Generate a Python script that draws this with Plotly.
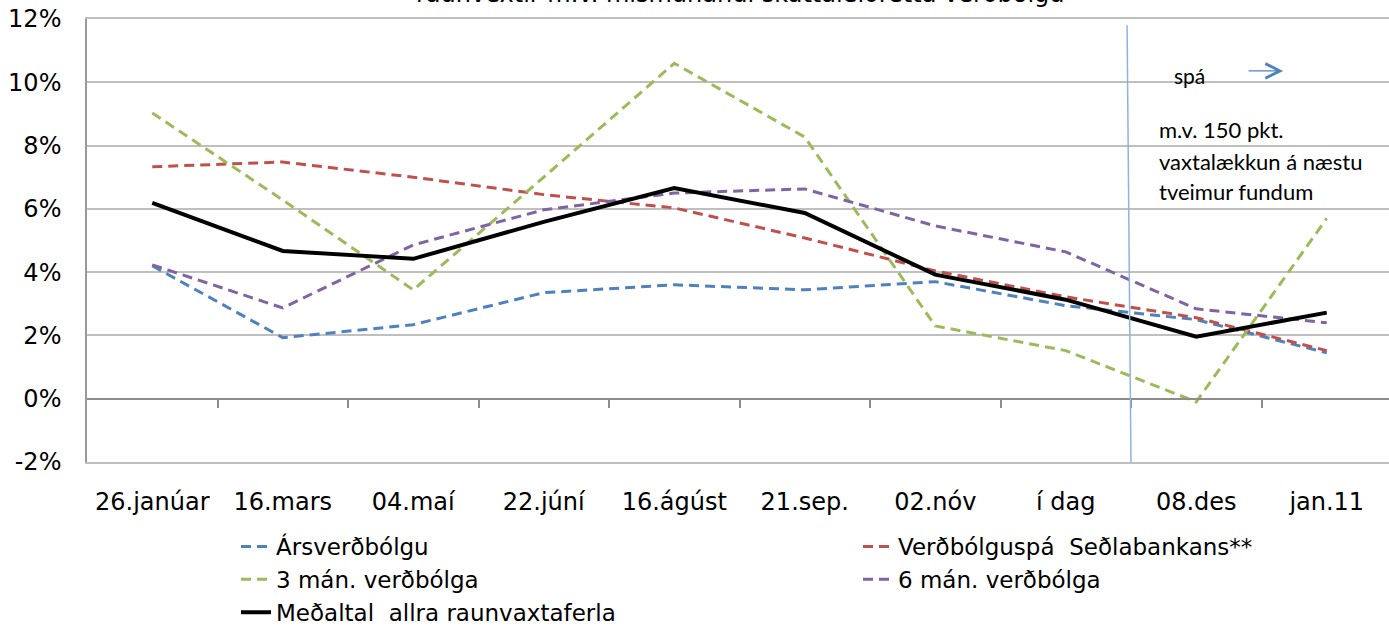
import plotly.graph_objects as go

categories = ["26.janúar", "16.mars", "04.maí", "22.júní", "16.ágúst",
              "21.sep.", "02.nóv", "í dag", "08.des", "jan.11"]

arsverdbolgu = [4.2, 1.93, 2.34, 3.35, 3.6, 3.44, 3.7, 2.94, 2.5, 1.45]
verdbolguspa = [7.33, 7.48, 7.0, 6.45, 6.03, 5.08, 4.04, 3.22, 2.56, 1.52]
man3 = [9.03, 6.28, 3.44, 7.0, 10.6, 8.27, 2.3, 1.52, -0.1, 5.7]
man6 = [4.23, 2.87, 4.86, 5.97, 6.5, 6.63, 5.46, 4.64, 2.84, 2.4]
medaltal = [6.19, 4.67, 4.42, 5.59, 6.66, 5.87, 3.92, 3.13, 1.96, 2.72]

y_tick_values = [-2, 0, 2, 4, 6, 8, 10, 12]
y_tick_labels = ["-2%", "0%", "2%", "4%", "6%", "8%", "10%", "12%"]
boundary_ticks = [0.5, 1.5, 2.5, 3.5, 4.5, 5.5, 6.5, 7.5, 8.5, 9.5]

FONT = "DejaVu Sans"
DASH = "10px,6px"
W, H = 1389, 628
L, T, B = 87, 19, 166
PH = H - T - B  # plot height in px

fig = go.Figure()
series = [
    ("Ársverðbólgu", arsverdbolgu, "#4f81bd", DASH, 3, "legend"),
    ("Verðbólguspá  Seðlabankans**", verdbolguspa, "#c0504d", DASH, 3, "legend2"),
    ("3 mán. verðbólga", man3, "#9bbb59", DASH, 3, "legend"),
    ("6 mán. verðbólga", man6, "#8064a2", DASH, 3, "legend2"),
    ("Meðaltal  allra raunvaxtaferla", medaltal, "#000000", "solid", 4, "legend"),
]
for i, (name, vals, col, dash, w, lg) in enumerate(series):
    fig.add_trace(go.Scatter(x=categories, y=vals, name=name, mode="lines",
                             legend=lg, legendgroup=f"g{i}",
                             line=dict(color=col, dash=dash, width=w)))

# dummy trace for the zero-line axis with ticks
fig.add_trace(go.Scatter(x=[None], y=[None], xaxis="x2", showlegend=False,
                         hoverinfo="skip"))

xr = [-0.5, 9.477]
leg_common = dict(orientation="v", xanchor="left", yanchor="top",
                  y=(H - B - 525) / PH, tracegroupgap=0,
                  font=dict(size=23, family=FONT), bgcolor="rgba(0,0,0,0)",
                  traceorder="normal")
fig.update_layout(
    width=W, height=H,
    margin=dict(l=L, r=0, t=T, b=B, autoexpand=False),
    paper_bgcolor="white", plot_bgcolor="white",
    font=dict(family=FONT, size=24, color="#000000"),
    xaxis=dict(type="category", range=xr, showgrid=False, showline=True,
               linecolor="#bfbfbf", linewidth=1.5, mirror=True, ticks="",
               automargin=False,
               ticklabelstandoff=17, tickfont=dict(size=24, family=FONT)),
    xaxis2=dict(overlaying="x", anchor="free", position=(H - B - 399) / PH,
                range=xr, type="linear", showgrid=False, zeroline=False,
                showline=True, linecolor="#8c8c8c", linewidth=1.5,
                ticks="outside", ticklen=8, tickwidth=1.5, tickcolor="#8c8c8c",
                tickvals=boundary_ticks, showticklabels=False, automargin=False),
    yaxis=dict(range=[-2, 12], tickvals=y_tick_values, ticktext=y_tick_labels,
               showgrid=True, gridcolor="#bfbfbf", gridwidth=1.5, zeroline=False,
               showline=True, linecolor="#999999", linewidth=1.5,
               ticks="", ticklabelstandoff=19, automargin=False,
               tickfont=dict(size=24, family=FONT)),
    legend=dict(x=(236 - L) / (W - L), **leg_common),
    legend2=dict(x=(858 - L) / (W - L), **leg_common),
    showlegend=True,
)

# forecast divider line
fig.add_shape(type="line", xref="x", yref="y", x0=7.47, x1=7.5, y0=11.8, y1=-2.1,
              line=dict(color="#8db3e2", width=1.5))

# title (cut off at top)
fig.add_annotation(text="raunvextir m.v. mismunandi skattaleiðrétta verðbólgu",
                   xref="paper", yref="paper", x=(740 - L) / (W - L), y=1 + 25.5 / PH,
                   xanchor="center", yanchor="middle", showarrow=False,
                   font=dict(size=24, family=FONT, color="#000000"))

AF = "Lato"
fig.add_annotation(text="spá", xref="x", yref="y", x=7.95, y=10.22,
                   showarrow=False, font=dict(size=21, family=AF, color="#000000"))
fig.add_annotation(x=8.665, y=10.36, ax=8.39, ay=10.36, xref="x", yref="y",
                   axref="x", ayref="y", text="", showarrow=True,
                   arrowhead=5, arrowsize=2.2, arrowwidth=1.3, arrowcolor="#4f81bd")
for txt, yv in [("m.v. 150 pkt.", 8.5), ("vaxtalækkun á næstu", 7.5),
                ("tveimur fundum", 6.55)]:
    fig.add_annotation(text=txt, xref="x", yref="y", x=7.70, y=yv, xanchor="left",
                       showarrow=False, font=dict(size=22, family=AF, color="#000000"))

fig.write_html("out.html", config={"displayModeBar": False},
               post_script="document.body.style.margin='0px';"
                           "document.body.style.overflow='hidden';")
